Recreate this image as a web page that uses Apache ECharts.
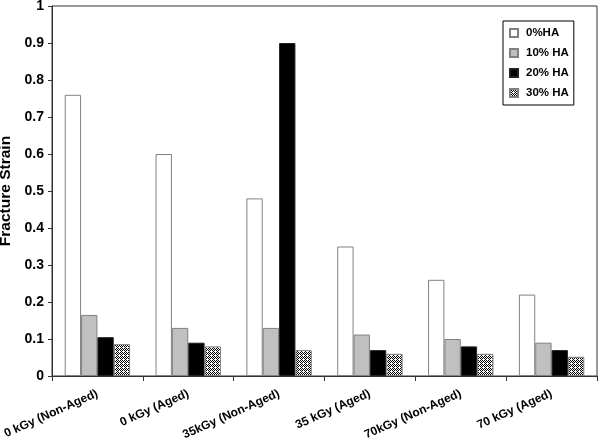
<!DOCTYPE html>
<html><head><meta charset="utf-8">
<script src="https://cdn.jsdelivr.net/npm/echarts@6/dist/echarts.min.js"></script>
<style>html,body{margin:0;padding:0;background:#fff}#c{width:600px;height:444px}</style>
</head><body><div id="c"></div>
<script>
const categories = ['0 kGy (Non-Aged)', '0 kGy (Aged)', '35kGy (Non-Aged)', '35 kGy (Aged)', '70kGy (Non-Aged)', '70 kGy (Aged)'];
const seriesNames = ['0%HA', '10% HA', '20% HA', '30% HA'];
const ha0 = [0.76, 0.60, 0.48, 0.35, 0.26, 0.22];
const ha10 = [0.165, 0.13, 0.13, 0.112, 0.10, 0.09];
const ha20 = [0.105, 0.09, 0.90, 0.07, 0.08, 0.07];
const ha30 = [0.086, 0.08, 0.07, 0.06, 0.06, 0.052];
const yTicks = [0, 0.1, 0.2, 0.3, 0.4, 0.5, 0.6, 0.7, 0.8, 0.9, 1];

function makePattern() {
  const c = document.createElement('canvas');
  c.width = 4; c.height = 4;
  const g = c.getContext('2d');
  g.fillStyle = '#fff'; g.fillRect(0, 0, 4, 4);
  g.fillStyle = '#000';
  [[0,0],[2,0],[3,1],[1,1],[0,2],[2,2],[1,3]].forEach(p => g.fillRect(p[0], p[1], 1, 1));
  return c;
}
const pattern = { image: makePattern(), repeat: 'repeat' };

const fills = ['#ffffff', '#c0c0c0', '#000000', pattern];
const data = [ha0, ha10, ha20, ha30];
const FF = 'Liberation Sans, Arial, sans-serif';

const chart = echarts.init(document.getElementById('c'), null, { renderer: 'canvas' });
chart.setOption({
  animation: false,
  backgroundColor: '#fff',
  textStyle: { fontFamily: FF },
  grid: { left: 52, right: 3, top: 6, bottom: 68, containLabel: false, outerBoundsMode: 'none',
    show: true, borderColor: '#333', borderWidth: 1, backgroundColor: 'transparent' },
  legend: {
    orient: 'vertical', left: 503, top: 21,
    padding: [6, 5, 6, 6], itemGap: 8, itemWidth: 8, itemHeight: 8,
    borderColor: '#000', borderWidth: 1, backgroundColor: '#fff',
    icon: 'rect',
    textStyle: { fontWeight: 'bold', fontSize: 11.5, color: '#000', lineHeight: 12, padding: [0, 0, 0, 3], fontFamily: FF },
    data: seriesNames
  },
  xAxis: {
    type: 'category', data: categories,
    axisLine: { lineStyle: { color: '#333', width: 1 } },
    axisTick: { show: true, length: 5, lineStyle: { color: '#333' } },
    axisLabel: { rotate: 24, margin: 17, fontSize: 12, fontWeight: 'bold', color: '#000', interval: 0, fontFamily: FF }
  },
  yAxis: {
    type: 'value', min: yTicks[0], max: yTicks[yTicks.length - 1], interval: 0.1,
    name: 'Fracture Strain', nameLocation: 'middle', nameGap: 33,
    nameTextStyle: { fontSize: 15.5, fontWeight: 'bold', color: '#000', fontFamily: FF },
    axisLine: { show: true, lineStyle: { color: '#333', width: 1 } },
    axisTick: { show: true, length: 4, lineStyle: { color: '#333' } },
    splitLine: { show: false },
    axisLabel: { fontSize: 14, fontWeight: 'bold', color: '#000', margin: 8, fontFamily: FF,
      formatter: v => String(Math.round(v * 10) / 10) }
  },
  series: seriesNames.map((n, i) => ({
    name: n, type: 'bar', data: data[i],
    barGap: '0%', barCategoryGap: '28%',
    itemStyle: { color: fills[i], borderColor: i === 2 ? '#222' : '#808080', borderWidth: 1 }
  }))
});
</script></body></html>
